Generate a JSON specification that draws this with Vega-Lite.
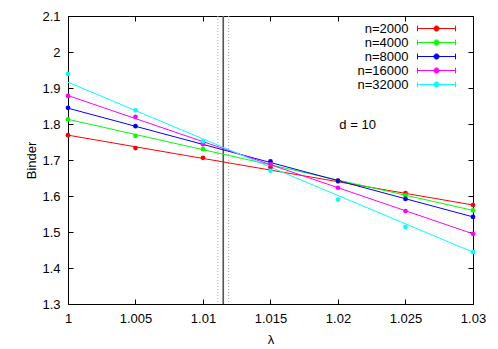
{
  "$schema": "https://vega.github.io/schema/vega-lite/v6.json",
  "width": 405,
  "height": 288,
  "autosize": {"type": "none"},
  "padding": {"left": 68, "top": 16, "right": 25, "bottom": 45},
  "background": "white",
  "config": {
    "font": "Liberation Sans",
    "view": {"stroke": "black", "strokeWidth": 1},
    "axis": {"grid": false, "domain": false, "tickColor": "black", "tickSize": -5, "tickWidth": 1, "labelFont": "Liberation Sans", "labelFontSize": 13, "labelColor": "black", "titleFont": "Liberation Sans", "titleFontSize": 13, "titleFontWeight": "normal", "titleColor": "black", "format": "~g"},
    "legend": {
      "title": null,
      "labelAlign": "right", "labelOffset": -34.5, "labelFontSize": 13, "labelFont": "Liberation Sans", "labelColor": "black", "labelLimit": 300,
      "symbolType": "M-7.6,0H7.6M-7.6,-1.14V1.14M7.6,-1.14V1.14M1.04,0A1.04,1.04 0 1,1 -1.04,0A1.04,1.04 0 1,1 1.04,0Z",
      "symbolSize": 25, "symbolStrokeWidth": 1, "rowPadding": 0, "padding": 0
    }
  },
  "datasets": {
    "pts": [
      {"lambda": 1.000, "binder": 1.769, "n": "n=2000"},
      {"lambda": 1.005, "binder": 1.733, "n": "n=2000"},
      {"lambda": 1.010, "binder": 1.706, "n": "n=2000"},
      {"lambda": 1.015, "binder": 1.680, "n": "n=2000"},
      {"lambda": 1.020, "binder": 1.643, "n": "n=2000"},
      {"lambda": 1.025, "binder": 1.608, "n": "n=2000"},
      {"lambda": 1.030, "binder": 1.575, "n": "n=2000"},
      {"lambda": 1.000, "binder": 1.813, "n": "n=4000"},
      {"lambda": 1.005, "binder": 1.767, "n": "n=4000"},
      {"lambda": 1.010, "binder": 1.730, "n": "n=4000"},
      {"lambda": 1.015, "binder": 1.690, "n": "n=4000"},
      {"lambda": 1.020, "binder": 1.640, "n": "n=4000"},
      {"lambda": 1.025, "binder": 1.602, "n": "n=4000"},
      {"lambda": 1.030, "binder": 1.560, "n": "n=4000"},
      {"lambda": 1.000, "binder": 1.845, "n": "n=8000"},
      {"lambda": 1.005, "binder": 1.794, "n": "n=8000"},
      {"lambda": 1.010, "binder": 1.748, "n": "n=8000"},
      {"lambda": 1.015, "binder": 1.696, "n": "n=8000"},
      {"lambda": 1.020, "binder": 1.642, "n": "n=8000"},
      {"lambda": 1.025, "binder": 1.592, "n": "n=8000"},
      {"lambda": 1.030, "binder": 1.542, "n": "n=8000"},
      {"lambda": 1.000, "binder": 1.878, "n": "n=16000"},
      {"lambda": 1.005, "binder": 1.820, "n": "n=16000"},
      {"lambda": 1.010, "binder": 1.744, "n": "n=16000"},
      {"lambda": 1.015, "binder": 1.688, "n": "n=16000"},
      {"lambda": 1.020, "binder": 1.623, "n": "n=16000"},
      {"lambda": 1.025, "binder": 1.558, "n": "n=16000"},
      {"lambda": 1.030, "binder": 1.495, "n": "n=16000"},
      {"lambda": 1.000, "binder": 1.939, "n": "n=32000"},
      {"lambda": 1.005, "binder": 1.838, "n": "n=32000"},
      {"lambda": 1.010, "binder": 1.752, "n": "n=32000"},
      {"lambda": 1.015, "binder": 1.670, "n": "n=32000"},
      {"lambda": 1.020, "binder": 1.590, "n": "n=32000"},
      {"lambda": 1.025, "binder": 1.514, "n": "n=32000"},
      {"lambda": 1.030, "binder": 1.444, "n": "n=32000"}
    ],
    "fits": [
      {"lambda": 1.000, "binder": 1.769, "n": "n=2000"},
      {"lambda": 1.030, "binder": 1.575, "n": "n=2000"},
      {"lambda": 1.000, "binder": 1.813, "n": "n=4000"},
      {"lambda": 1.030, "binder": 1.560, "n": "n=4000"},
      {"lambda": 1.000, "binder": 1.844, "n": "n=8000"},
      {"lambda": 1.030, "binder": 1.542, "n": "n=8000"},
      {"lambda": 1.000, "binder": 1.879, "n": "n=16000"},
      {"lambda": 1.030, "binder": 1.495, "n": "n=16000"},
      {"lambda": 1.000, "binder": 1.916, "n": "n=32000"},
      {"lambda": 1.030, "binder": 1.444, "n": "n=32000"}
    ],
    "bounds": [{"lambda": 1.0111}, {"lambda": 1.0119}],
    "center": [{"lambda": 1.0115}],
    "note": [{"label": "d = 10", "lambda": 1.0201, "binder": 1.797}]
  },
  "resolve": {"axis": {"x": "independent", "y": "independent"}},
  "layer": [
    {
      "data": {"name": "bounds"},
      "mark": {"type": "rule", "color": "#aaaaaa", "strokeWidth": 1, "strokeDash": [1, 2]},
      "encoding": {
        "x": {"field": "lambda", "type": "quantitative", "scale": {"domain": [1, 1.03], "nice": false, "zero": false}, "axis": null}
      }
    },
    {
      "data": {"name": "center"},
      "mark": {"type": "rule", "color": "#555555", "strokeWidth": 1.6},
      "encoding": {
        "x": {"field": "lambda", "type": "quantitative", "axis": null}
      }
    },
    {
      "data": {"name": "fits"},
      "mark": {"type": "line", "strokeWidth": 1, "clip": true},
      "encoding": {
        "x": {"field": "lambda", "type": "quantitative", "axis": {"orient": "top", "labels": false, "title": null, "values": [1, 1.005, 1.01, 1.015, 1.02, 1.025, 1.03]}},
        "y": {"field": "binder", "type": "quantitative", "axis": {"orient": "right", "labels": false, "title": null, "values": [1.3, 1.4, 1.5, 1.6, 1.7, 1.8, 1.9, 2.0, 2.1]}},
        "color": {"field": "n", "type": "nominal", "scale": {"domain": ["n=2000", "n=4000", "n=8000", "n=16000", "n=32000"], "range": ["#ff0000", "#00ff00", "#0000ff", "#ff00ff", "#00ffff"]}, "legend": {"orient": "none", "legendX": 362, "legendY": 6, "title": null}},
        "detail": {"field": "n"}
      }
    },
    {
      "data": {"name": "pts"},
      "mark": {"type": "point", "filled": true, "shape": "circle", "size": 22, "opacity": 1},
      "encoding": {
        "x": {"field": "lambda", "type": "quantitative", "title": "λ", "axis": {"values": [1, 1.005, 1.01, 1.015, 1.02, 1.025, 1.03], "labelPadding": 13, "titlePadding": 8, "labelFlush": false}},
        "y": {"field": "binder", "type": "quantitative", "title": "Binder", "scale": {"domain": [1.3, 2.1], "nice": false, "zero": false}, "axis": {"values": [1.3, 1.4, 1.5, 1.6, 1.7, 1.8, 1.9, 2.0, 2.1], "labelPadding": 13, "titlePadding": 3, "labelFlush": false}},
        "color": {"field": "n", "type": "nominal", "legend": {"orient": "none", "legendX": 362, "legendY": 6, "title": null, "encode": {"symbols": {"update": {"fill": {"scale": "color", "field": "value"}, "stroke": {"scale": "color", "field": "value"}, "strokeWidth": {"value": 1}, "opacity": {"value": 1}}}}}}
      }
    },
    {
      "data": {"name": "note"},
      "mark": {"type": "text", "align": "left", "baseline": "middle", "fontSize": 13, "font": "Liberation Sans", "color": "black"},
      "encoding": {
        "x": {"field": "lambda", "type": "quantitative", "axis": null},
        "y": {"field": "binder", "type": "quantitative", "axis": null},
        "text": {"field": "label"}
      }
    }
  ]
}
